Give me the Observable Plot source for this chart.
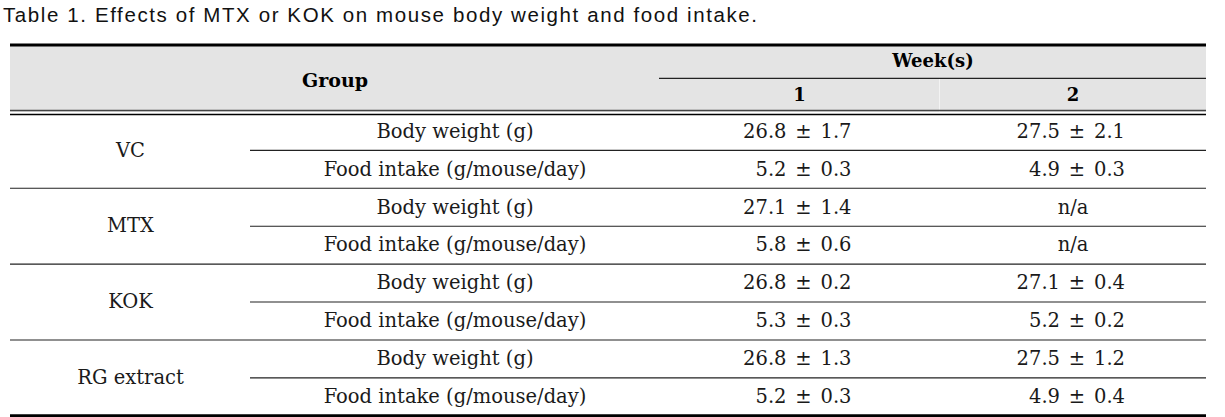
<!DOCTYPE html>
<html><head><meta charset="utf-8">
<script src="https://cdn.jsdelivr.net/npm/d3@7"></script>
<script src="https://cdn.jsdelivr.net/npm/@observablehq/plot@0.6"></script>
<style>
body{margin:0;background:#fff;}
#title{font-family:"Liberation Sans",Arial,sans-serif;font-size:20.5px;letter-spacing:1.6px;height:30px;line-height:30px;padding-left:3px;color:#111;white-space:nowrap;}
#chart svg{display:block;}
</style></head><body>
<div id="title">Table 1. Effects of MTX or KOK on mouse body weight and food intake.</div>
<div id="chart"></div>
<script>
// ---- data ----
const groups = ["VC", "MTX", "KOK", "RG extract"];
const measures = ["Body weight (g)", "Food intake (g/mouse/day)"];
const weekLabels = ["1", "2"];
const headerGroup = "Group";
const headerWeeks = "Week(s)";
const week1Mean = [26.8, 5.2, 27.1, 5.8, 26.8, 5.3, 26.8, 5.2];
const week1SD   = [1.7, 0.3, 1.4, 0.6, 0.2, 0.3, 1.3, 0.3];
const week2Mean = [27.5, 4.9, null, null, 27.1, 5.2, 27.5, 4.9];
const week2SD   = [2.1, 0.3, null, null, 0.4, 0.2, 1.2, 0.4];
const missing = "n/a";

// ---- layout (table units) ----
const W = 1196;
const colEdges = [0, 240, 649, 929, W];
const colMid = i => (colEdges[i] + colEdges[i + 1]) / 2;
const H = 1.78;          // header height in row units
const HSPLIT = -0.9;     // header split line

const rows = [];
groups.forEach((g, gi) => measures.forEach((m, mi) => {
  const r = gi * 2 + mi;
  rows.push({r, group: g, measure: m,
    vals: [[week1Mean[r], week1SD[r]], [week2Mean[r], week2SD[r]]]});
}));
const cells = [];
rows.forEach(row => row.vals.forEach(([mean, sd], wi) => {
  cells.push({r: row.r, col: wi + 2, mean, sd});
}));
const present = cells.filter(d => d.mean != null);
const absent = cells.filter(d => d.mean == null);

const serif = "'DejaVu Serif', serif";
const fs = 19.5;
const ink = "#1a1a1a";

const plot = Plot.plot({
  width: 1225, height: 387,
  margin: 0,
  x: {domain: [0, W], range: [10, 1206], axis: null},
  y: {domain: [-H, 8], range: [14.5, 385.3], axis: null},
  style: {fontFamily: serif, background: "#fff"},
  marks: [
    Plot.rect([0], {x1: 0, x2: W, y1: -H, y2: 0, fill: "#e4e4e4"}),
    Plot.ruleX([colEdges[3]], {y1: HSPLIT, y2: 0, stroke: "#fff", strokeOpacity: 0.55, strokeWidth: 1}),
    Plot.ruleY([-H], {x1: 0, x2: W, stroke: "#000", strokeWidth: 3}),
    Plot.ruleY([8], {x1: 0, x2: W, stroke: "#000", strokeWidth: 3}),
    Plot.ruleY([HSPLIT], {x1: colEdges[2], x2: W, stroke: "#222", strokeWidth: 1.2}),
    Plot.ruleY([0], {x1: 0, x2: W, dy: -2, stroke: "#444", strokeWidth: 1.3}),
    Plot.ruleY([0], {x1: 0, x2: W, dy: 2, stroke: "#000", strokeWidth: 1.3}),
    Plot.ruleY([2, 4, 6], {x1: 0, x2: W, stroke: "#222", strokeWidth: 1.1}),
    Plot.ruleY([1, 3, 5, 7], {x1: colEdges[1], x2: W, stroke: "#222", strokeWidth: 1.1}),
    // header text
    Plot.text([headerGroup], {x: colEdges[0] + (colEdges[2] - colEdges[0]) / 2, y: -H / 2 + 0.05, text: d => d,
      fontSize: 19, fontWeight: "bold", fill: "#000"}),
    Plot.text([headerWeeks], {x: (colEdges[2] + W) / 2, y: (-H + HSPLIT) / 2, text: d => d,
      fontSize: 18, fontWeight: "bold", fill: "#000"}),
    Plot.text(weekLabels, {x: (d, i) => colMid(i + 2), y: HSPLIT / 2, text: d => d,
      fontSize: 18, fontWeight: "bold", fill: "#000"}),
    // body text
    Plot.text(groups, {x: colMid(0), y: (d, i) => i * 2 + 1, text: d => d, fontSize: fs, fill: ink}),
    Plot.text(rows, {x: colMid(1), y: d => d.r + 0.5, text: d => d.measure, fontSize: fs, fill: ink}),
    Plot.text(present, {x: d => colMid(d.col), y: d => d.r + 0.5, text: d => d.mean.toFixed(1),
      textAnchor: "end", dx: -13, fontSize: fs, fill: ink}),
    Plot.text(present, {x: d => colMid(d.col), y: d => d.r + 0.5, text: () => "±",
      dx: 4, fontSize: fs, fill: ink}),
    Plot.text(present, {x: d => colMid(d.col), y: d => d.r + 0.5, text: d => d.sd.toFixed(1),
      textAnchor: "start", dx: 21, fontSize: fs, fill: ink}),
    Plot.text(absent, {x: d => colMid(d.col), y: d => d.r + 0.5, text: () => missing, fontSize: fs, fill: ink})
  ]
});
document.getElementById("chart").appendChild(plot);
</script>
</body></html>
